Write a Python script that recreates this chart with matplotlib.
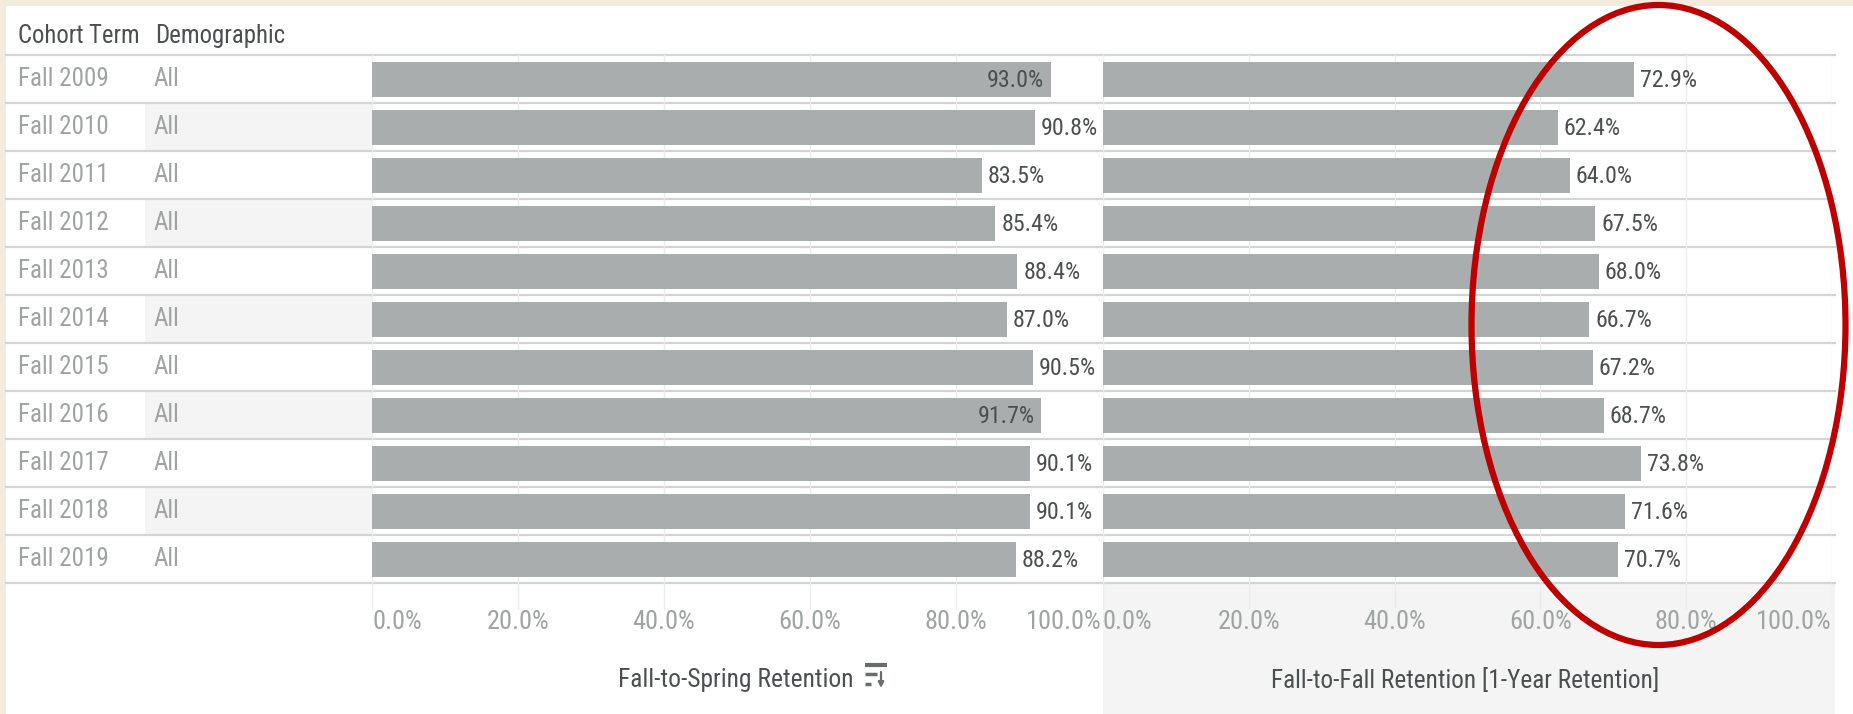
import matplotlib
matplotlib.use('Agg')
import matplotlib.pyplot as plt
from matplotlib.patches import Ellipse, Rectangle

W, H = 1853, 714
plt.rcParams['font.family'] = ['Roboto Condensed', 'Roboto', 'DejaVu Sans']

cohorts = ['Fall 2009', 'Fall 2010', 'Fall 2011', 'Fall 2012', 'Fall 2013', 'Fall 2014',
           'Fall 2015', 'Fall 2016', 'Fall 2017', 'Fall 2018', 'Fall 2019']
demographic = ['All'] * 11
spring = [93.0, 90.8, 83.5, 85.4, 88.4, 87.0, 90.5, 91.7, 90.1, 90.1, 88.2]
fall = [72.9, 62.4, 64.0, 67.5, 68.0, 66.7, 67.2, 68.7, 73.8, 71.6, 70.7]
ticks = [0, 20, 40, 60, 80, 100]

BAR = '#a9adad'
RULE = '#d3d5d5'
GRID = '#ececec'
SHADE = '#f4f4f4'
TXT = '#a0a3a3'
DARK = '#4c4f50'

top, row_h, grid_end = 54.5, 48.0, 610
n = len(cohorts)

fig = plt.figure(figsize=(W / 100, H / 100), dpi=100, facecolor='white')

# pixel overlay for table shading, rules and headers
bg = fig.add_axes([0, 0, 1, 1], zorder=0)
bg.set_xlim(0, W)
bg.set_ylim(H, 0)
bg.axis('off')
bg.add_patch(Rectangle((0, 0), W, 6, color='#f3ecdc', lw=0))
bg.add_patch(Rectangle((0, 0), 6, H, color='#f3ecdc', lw=0))
bg.add_patch(Rectangle((1103, top + n * row_h), 732, H, color=SHADE, lw=0))
for i in range(1, n, 2):
    bg.add_patch(Rectangle((145, top + i * row_h), 227, row_h, color=SHADE, lw=0))
for i in range(n + 1):
    bg.plot([6, 1835], [top + i * row_h] * 2, color=RULE, lw=1.6, zorder=1)
for i, (c, d) in enumerate(zip(cohorts, demographic)):
    y = top + (i + 0.5) * row_h + 1
    bg.text(18, y, c, color=TXT, fontsize=18, va='center')
    bg.text(154, y, d, color=TXT, fontsize=18, va='center')
bg.text(18, 36, 'Cohort Term', color=DARK, fontsize=17.7, va='center')
bg.text(155, 36, 'Demographic', color=DARK, fontsize=17.9, va='center')
bg.text(736, 680, 'Fall-to-Spring Retention', color=DARK, fontsize=18.4, va='center', ha='center')
bg.text(1465, 680, 'Fall-to-Fall Retention [1-Year Retention]', color=DARK, fontsize=18.2, va='center', ha='center')

# sort icon next to the left title
bg.plot([865, 887], [665, 665], color='#6a6d6e', lw=3, solid_capstyle='butt')
bg.plot([865, 877], [674, 674], color='#6a6d6e', lw=2.5, solid_capstyle='butt')
bg.plot([865, 871], [684, 684], color='#6a6d6e', lw=2.5, solid_capstyle='butt')
bg.annotate('', xy=(881, 688), xytext=(881, 672),
            arrowprops=dict(arrowstyle='-|>', color='#6a6d6e', lw=1.6, mutation_scale=8, shrinkA=0, shrinkB=0))


def panel(x0, x1, values, inside):
    ax = fig.add_axes([x0 / W, 1 - grid_end / H, (x1 - x0) / W, (grid_end - top) / H], zorder=1)
    ax.patch.set_alpha(0)
    ax.set_xlim(0, 100)
    ax.set_ylim((grid_end - top) / row_h, 0)
    for s in ax.spines.values():
        s.set_visible(False)
    ax.set_axisbelow(True)
    ax.grid(axis='x', color=GRID, lw=1)
    ax.barh([i + 0.53 for i in range(n)], values, height=0.73, color=BAR)
    ax.set_yticks([])
    ax.set_xticks(ticks)
    labels = ax.set_xticklabels([f'{t:.1f}%' for t in ticks], color=TXT, fontsize=19)
    labels[0].set_ha('left')
    labels[-1].set_ha('right')
    ax.tick_params(axis='x', length=0, pad=0)
    for i, v in enumerate(values):
        if v > inside:
            ax.annotate(f'{v:.1f}%', (v, i + 0.55), xytext=(-7, 0), textcoords='offset pixels',
                        ha='right', va='center', color=DARK, fontsize=17.3)
        else:
            ax.annotate(f'{v:.1f}%', (v, i + 0.55), xytext=(6, 0), textcoords='offset pixels',
                        ha='left', va='center', color=DARK, fontsize=17.3)
    return ax


panel(372, 1102, spring, 91)
panel(1103, 1832, fall, 100)

# red ellipse annotation on top of everything
top_ax = fig.add_axes([0, 0, 1, 1], zorder=5)
top_ax.set_xlim(0, W)
top_ax.set_ylim(H, 0)
top_ax.axis('off')
top_ax.add_patch(Ellipse((1658.5, 325), 374, 640, fill=False, edgecolor='#bd0000', lw=4.5))

fig.savefig('out.png', dpi=100)
